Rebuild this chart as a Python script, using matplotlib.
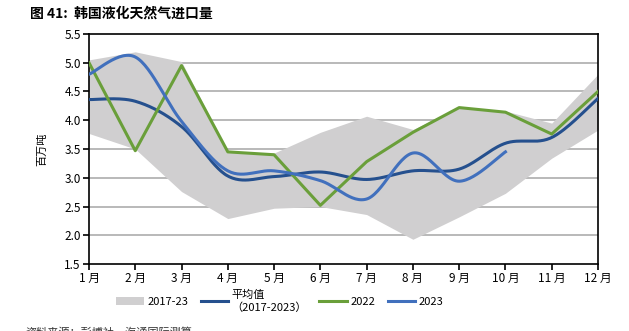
import numpy as np
import matplotlib.pyplot as plt
from matplotlib.patches import Patch
from matplotlib.lines import Line2D

plt.rcParams['font.family'] = ['Noto Sans CJK SC', 'DejaVu Sans']

months = ['1 月', '2 月', '3 月', '4 月', '5 月', '6 月', '7 月', '8 月', '9 月', '10 月', '11 月', '12 月']
band_high = [5.05, 5.19, 5.02, 3.45, 3.43, 3.79, 4.07, 3.84, 4.22, 4.16, 3.95, 4.80]
band_low = [3.77, 3.50, 2.76, 2.29, 2.47, 2.50, 2.36, 1.93, 2.32, 2.73, 3.34, 3.83]
avg_1723 = [4.36, 4.33, 3.89, 3.03, 3.02, 3.10, 2.97, 3.12, 3.15, 3.60, 3.70, 4.38]
y2022 = [5.00, 3.47, 4.95, 3.45, 3.40, 2.52, 3.28, 3.79, 4.22, 4.14, 3.76, 4.50]
y2023 = [4.80, 5.10, 3.98, 3.12, 3.12, 2.95, 2.63, 3.43, 2.94, 3.45]


def smooth(y, n=30):
    # excel-like smoothed line (bezier through the points)
    y = np.asarray(y, float)
    x = np.arange(1, len(y) + 1, dtype=float)
    pts = np.column_stack([x, y])
    out = []
    for i in range(len(pts) - 1):
        p0 = pts[max(i - 1, 0)]
        p1 = pts[i]
        p2 = pts[i + 1]
        p3 = pts[min(i + 2, len(pts) - 1)]
        c1 = p1 + (p2 - p0) / 6
        c2 = p2 - (p3 - p1) / 6
        t = np.linspace(0, 1, n)[:, None]
        seg = (1 - t) ** 3 * p1 + 3 * (1 - t) ** 2 * t * c1 + 3 * (1 - t) * t ** 2 * c2 + t ** 3 * p2
        out.append(seg if i == 0 else seg[1:])
    out = np.vstack(out)
    return out[:, 0], out[:, 1]


fig = plt.figure(figsize=(6.29, 3.31), dpi=100)
ax = fig.add_axes([0.1415, 0.2024, 0.8092, 0.6949])

x = np.arange(1, 13)
band_color = '#d0cfd0'
c_avg = '#25508e'
c_22 = '#6a9f3a'
c_23 = '#4170bd'

ax.fill_between(x, band_low, band_high, color=band_color, linewidth=0, zorder=1)
for v in [2.0, 2.5, 3.0, 3.5, 4.0, 4.5, 5.0]:
    ax.axhline(v, color='#b3b3b3', linewidth=1.3, zorder=0.5)

xs, ys = smooth(avg_1723)
ax.plot(xs, ys, color=c_avg, linewidth=2.2, zorder=3)
ax.plot(x, y2022, color=c_22, linewidth=2.2, zorder=3)
xs, ys = smooth(y2023)
ax.plot(xs, ys, color=c_23, linewidth=2.2, zorder=4)

ax.set_xlim(1, 12)
ax.set_ylim(1.5, 5.5)
ax.set_xticks(x)
ax.set_xticklabels(months, fontsize=8.5)
ax.set_yticks(np.arange(1.5, 5.51, 0.5))
ax.set_yticklabels(['%.1f' % v for v in np.arange(1.5, 5.51, 0.5)], fontsize=8.5)
ax.tick_params(axis='both', direction='out', length=4, width=1.2, color='black', pad=2)
for s in ax.spines.values():
    s.set_linewidth(1.2)
    s.set_color('black')
ax.set_ylabel('百万吨', fontsize=8, labelpad=12)

handles = [
    Patch(facecolor=band_color, edgecolor='none'),
    Line2D([], [], color=c_avg, linewidth=2.2),
    Line2D([], [], color=c_22, linewidth=2.2),
    Line2D([], [], color=c_23, linewidth=2.2),
]
labels = ['2017-23', '平均值\n（2017-2023）', '2022', '2023']
fig.legend(handles, labels, loc='center', bbox_to_anchor=(0.445, 0.09), ncol=4, frameon=False,
           fontsize=8, handlelength=2.5, handletextpad=0.3, columnspacing=1.1)

fig.text(0.048, 0.96, '图 41:  韩国液化天然气进口量', fontsize=10, fontweight='bold', va='center')
fig.text(0.04, 0.012, '资料来源：彭博社，海通国际测算', fontsize=8, va='top', color='#333333')

fig.savefig('out.png', dpi=100)
